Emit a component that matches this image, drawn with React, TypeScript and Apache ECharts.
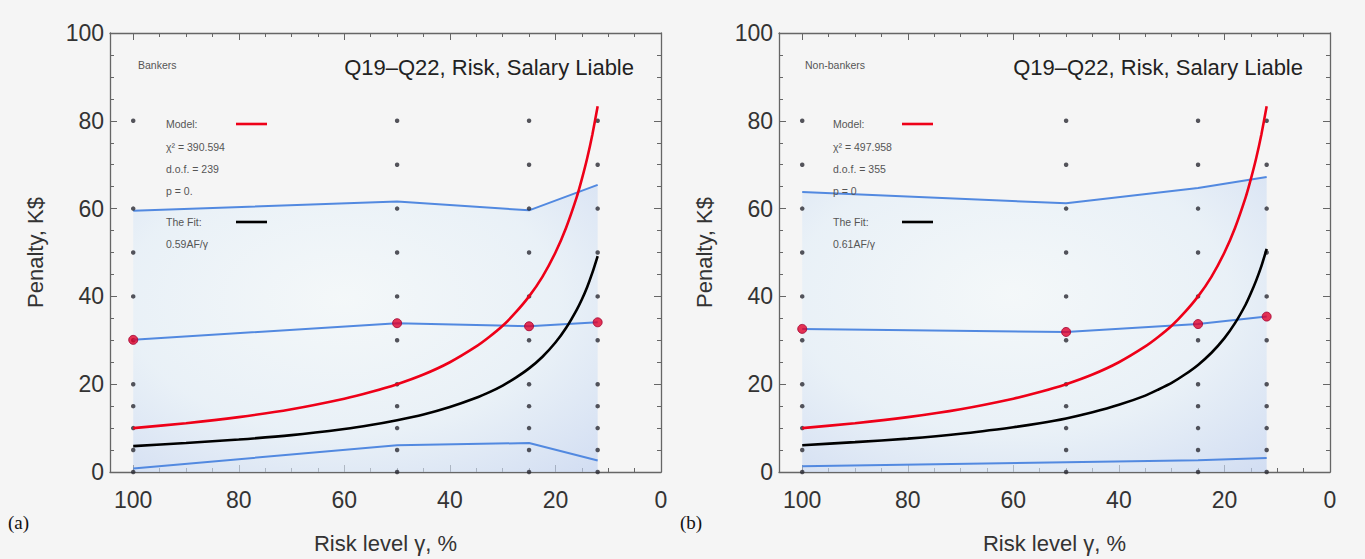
import React, { useEffect, useRef } from "react";
import * as echarts from "echarts";

// ---- data ----
const X_COLS = [100, 50, 25, 12];

// Panel (a) Bankers
const A_UPPER = [59.5, 61.6, 59.6, 65.4];
const A_MID = [30.1, 33.9, 33.2, 34.1];
const A_LOWER = [0.8, 6.1, 6.6, 2.6];
const A_RESP = [30.1, 33.9, 33.2, 34.1];
// Panel (b) Non-bankers
const B_UPPER = [63.8, 61.2, 64.7, 67.2];
const B_MID = [32.6, 31.9, 33.7, 35.4];
const B_LOWER = [1.3, 2.2, 2.7, 3.2];
const B_RESP = [32.6, 31.9, 33.7, 35.4];

// Model and fit curves (sampled readings)
const CURVE_X = [100, 90, 80, 70, 60, 55, 50, 45, 40, 35, 32.5, 30, 27.5, 25, 22.5, 20, 18, 16, 15, 14, 13, 12];
const MODEL_Y = [10, 11.1, 12.5, 14.3, 16.7, 18.2, 20, 22.2, 25, 28.6, 30.8, 33.3, 36.4, 40, 44.4, 50, 55.6, 62.5, 66.7, 71.4, 76.9, 83.3];
const A_FIT_Y = [5.9, 6.6, 7.4, 8.4, 9.8, 10.7, 11.8, 13.1, 14.8, 16.9, 18.2, 19.7, 21.5, 23.6, 26.2, 29.5, 32.8, 36.9, 39.3, 42.1, 45.4, 49.2];
const B_FIT_Y = [6.1, 6.8, 7.6, 8.7, 10.2, 11.1, 12.2, 13.6, 15.3, 17.4, 18.8, 20.3, 22.2, 24.4, 27.1, 30.5, 33.9, 38.1, 40.7, 43.6, 46.9, 50.8];

// Answer levels (gray dots) per column
const A_DOTS = [
  [0, 5, 10, 15, 20, 30, 40, 50, 60, 80],
  [0, 5, 10, 15, 20, 30, 40, 50, 60, 70, 80],
  [0, 5, 10, 15, 20, 30, 40, 50, 60, 70, 80],
  [0, 5, 10, 15, 20, 30, 40, 50, 60, 70, 80],
];
const B_DOTS = [
  [0, 5, 10, 15, 20, 30, 40, 50, 60, 70, 80],
  [0, 5, 10, 15, 20, 30, 40, 50, 60, 70, 80],
  [0, 5, 10, 15, 20, 30, 40, 50, 60, 70, 80],
  [0, 5, 10, 15, 20, 30, 40, 50, 60, 70, 80],
];

const X_TICKS = ["0", "20", "40", "60", "80", "100"];

const TITLE = "Q19\u2013Q22, Risk, Salary Liable";
const PANELS = [
  { tag: "(a)", group: "Bankers", chi: "\u03c7\u00b2 = 390.594", dof: "d.o.f. = 239", p: "p = 0.", fit: "0.59AF/\u03b3" },
  { tag: "(b)", group: "Non-bankers", chi: "\u03c7\u00b2 = 497.958", dof: "d.o.f. = 355", p: "p = 0", fit: "0.61AF/\u03b3" },
];

const FONT = "Liberation Sans, Arial, sans-serif";
const AXIS_COLOR = "#666";
const BLUE = "#5289e0";
const RED = "#ee0018";

const pairs = (xs: number[], ys: number[]) => xs.map((x, i) => [x, ys[i]]);

function App() {
  const ref = useRef<HTMLDivElement>(null);
  useEffect(() => {
    if (!ref.current) return;
    const chart = echarts.init(ref.current, null, { renderer: "svg" });

    const grids = [
      { left: 110, top: 33, width: 551, height: 448 },
      { left: 779, top: 33, width: 551, height: 448 },
    ];
    const X_MAX = 104.4;

    const xAxes: any[] = [];
    const yAxes: any[] = [];
    grids.forEach((_, g) => {
      const base = {
        type: "value",
        gridIndex: g,
        min: 0,
        max: X_MAX,
        inverse: true,
        splitLine: { show: false },
      };
      xAxes.push({
        ...base,
        position: "bottom",
        interval: 20,
        name: "Risk level \u03b3, %",
        nameLocation: "middle",
        nameGap: 60,
        nameTextStyle: { fontSize: 22, color: "#333", fontFamily: FONT },
        axisLine: { show: true, onZero: false, lineStyle: { color: AXIS_COLOR, width: 1.3 } },
        axisTick: { show: true, inside: true, length: 7, lineStyle: { color: AXIS_COLOR } },
        axisLabel: {
          show: true,
          margin: 16,
          fontSize: 23,
          color: "#333",
          fontFamily: FONT,
          formatter: (v: number) => (X_TICKS.indexOf(String(v)) >= 0 ? String(v) : ""),
        },
      });
      xAxes.push({
        ...base,
        position: "bottom",
        interval: 5,
        axisLine: { show: false, onZero: false },
        axisTick: { show: true, inside: true, length: 4, lineStyle: { color: AXIS_COLOR } },
        axisLabel: { show: false },
      });
      xAxes.push({
        ...base,
        position: "top",
        interval: 20,
        axisLine: { show: true, onZero: false, lineStyle: { color: AXIS_COLOR, width: 1.3 } },
        axisTick: { show: true, inside: true, length: 7, lineStyle: { color: AXIS_COLOR } },
        axisLabel: { show: false },
      });
      xAxes.push({
        ...base,
        position: "top",
        interval: 5,
        axisLine: { show: false, onZero: false },
        axisTick: { show: true, inside: true, length: 4, lineStyle: { color: AXIS_COLOR } },
        axisLabel: { show: false },
      });

      const ybase = {
        type: "value",
        gridIndex: g,
        min: 0,
        max: 100,
        interval: 20,
        splitLine: { show: false },
        axisLine: { show: true, onZero: false, lineStyle: { color: AXIS_COLOR, width: 1.3 } },
        axisTick: { show: true, inside: true, length: 7, lineStyle: { color: AXIS_COLOR } },
        minorTick: { show: true, splitNumber: 4, length: 4, lineStyle: { color: AXIS_COLOR } },
      };
      yAxes.push({
        ...ybase,
        position: "left",
        name: "Penalty, K$",
        nameLocation: "middle",
        nameGap: 64,
        nameTextStyle: { fontSize: 22, color: "#333", fontFamily: FONT },
        axisLabel: { show: true, margin: 6, fontSize: 23, color: "#333", fontFamily: FONT },
      });
      yAxes.push({ ...ybase, position: "right", axisLabel: { show: false } });
    });

    const series: any[] = [];
    const panelData = [
      { upper: A_UPPER, mid: A_MID, lower: A_LOWER, resp: A_RESP, fit: A_FIT_Y, dots: A_DOTS },
      { upper: B_UPPER, mid: B_MID, lower: B_LOWER, resp: B_RESP, fit: B_FIT_Y, dots: B_DOTS },
    ];
    panelData.forEach((d, g) => {
      const xi = 4 * g;
      const yi = 2 * g;
      const common = { xAxisIndex: xi, yAxisIndex: yi, silent: true };
      series.push({
        ...common,
        type: "line",
        data: pairs(X_COLS, d.upper),
        symbol: "none",
        lineStyle: { color: BLUE, width: 2 },
        areaStyle: {
          origin: "start",
          color: new echarts.graphic.RadialGradient(0.45, 0.4, 0.85, [
            { offset: 0, color: "rgba(243,249,251,0.9)" },
            { offset: 0.55, color: "rgba(226,238,248,0.9)" },
            { offset: 1, color: "rgba(188,206,240,0.95)" },
          ]),
        },
        z: 1,
      });
      series.push({
        ...common,
        type: "line",
        data: pairs(X_COLS, d.lower),
        symbol: "none",
        lineStyle: { color: BLUE, width: 2 },
        z: 2,
      });
      series.push({
        ...common,
        type: "scatter",
        data: X_COLS.flatMap((x, i) => d.dots[i].map((v) => [x, v])),
        symbolSize: 4.5,
        itemStyle: { color: "#2b2b33" },
        z: 3,
      });
      series.push({
        ...common,
        type: "line",
        data: pairs(X_COLS, d.mid),
        symbol: "none",
        lineStyle: { color: BLUE, width: 2 },
        z: 4,
      });
      series.push({
        ...common,
        type: "line",
        data: pairs(CURVE_X, MODEL_Y),
        symbol: "none",
        smooth: 0.2,
        lineStyle: { color: RED, width: 2.6 },
        z: 5,
      });
      series.push({
        ...common,
        type: "line",
        data: pairs(CURVE_X, d.fit),
        symbol: "none",
        smooth: 0.2,
        lineStyle: { color: "#000", width: 2.6 },
        z: 5,
      });
      series.push({
        ...common,
        type: "scatter",
        data: pairs(X_COLS, d.resp),
        symbolSize: 9,
        itemStyle: { color: "#e0002a", borderColor: "#a00030", borderWidth: 1 },
        z: 6,
      });
    });

    const graphics: any[] = [];
    const txt = (x: number, y: number, text: string, size: number, extra: any = {}) => ({
      type: "text",
      x,
      y,
      z: 100,
      silent: true,
      style: {
        text,
        fontSize: size,
        fontFamily: FONT,
        fill: "#555",
        textVerticalAlign: "middle",
        verticalAlign: "middle",
        ...extra,
      },
    });
    PANELS.forEach((p, g) => {
      const left = grids[g].left;
      const dx = left - 110;
      const sx = g === 1 ? -2 : 0;
      graphics.push(txt(634 + dx, 67, TITLE, 22, { fill: "#222", textAlign: "right", align: "right" }));
      graphics.push(txt(138 + dx + sx, 65, p.group, 10.5));
      graphics.push(txt(166 + dx + sx, 124, "Model:", 10.5));
      graphics.push(txt(166 + dx + sx, 147, p.chi, 10.5));
      graphics.push(txt(166 + dx + sx, 169, p.dof, 10.5));
      graphics.push(txt(166 + dx + sx, 191, p.p, 10.5));
      graphics.push(txt(166 + dx + sx, 222, "The Fit:", 10.5));
      graphics.push(txt(166 + dx + sx, 244, p.fit, 10.5));
      graphics.push({
        type: "line",
        z: 100,
        silent: true,
        shape: { x1: 236 + dx - 3 * g, y1: 124, x2: 267 + dx - 3 * g, y2: 124 },
        style: { stroke: RED, lineWidth: 2.6 },
      });
      graphics.push({
        type: "line",
        z: 100,
        silent: true,
        shape: { x1: 236 + dx - 3 * g, y1: 222, x2: 267 + dx - 3 * g, y2: 222 },
        style: { stroke: "#000", lineWidth: 2.6 },
      });
      graphics.push({
        type: "text",
        z: 100,
        x: g === 0 ? 8 : 680,
        y: 522,
        silent: true,
        style: {
          text: p.tag,
          fontSize: 19,
          fontFamily: "Liberation Serif, Times New Roman, serif",
          fill: "#111",
          verticalAlign: "middle",
          textVerticalAlign: "middle",
        },
      });
    });

    chart.setOption({
      animation: false,
      backgroundColor: "#f5f5f5",
      grid: grids,
      xAxis: xAxes,
      yAxis: yAxes,
      series,
      graphic: graphics,
    });
    return () => chart.dispose();
  }, []);

  return (
    <div
      ref={ref}
      style={{ position: "absolute", left: 0, top: 0, width: 1365, height: 559, background: "#f5f5f5" }}
    />
  );
}

export default App;
